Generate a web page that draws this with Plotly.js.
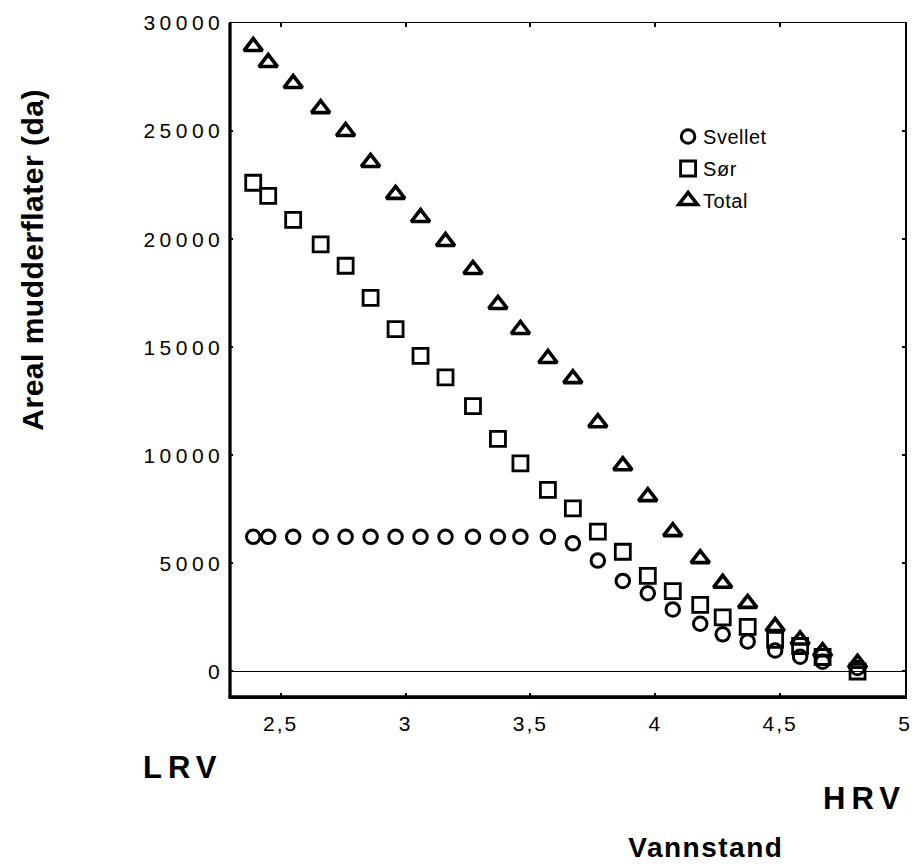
<!DOCTYPE html>
<html><head><meta charset="utf-8">
<script src="https://cdn.plot.ly/plotly-3.0.1.min.js"></script>
<style>
html,body{margin:0;padding:0;background:#fff;}
#chart .xtick text { letter-spacing: 2px; }
#chart .ytick text { letter-spacing: 4.5px; }
#chart text.legendtext { letter-spacing: 0.5px; transform: translateX(-5px); }
#chart .annotation-text { letter-spacing: 1.5px; }
#chart .ytitle-ann .annotation-text { letter-spacing: 0.5px; }
#chart .lrv .annotation-text { letter-spacing: 6px; }
</style>
</head><body><div id="chart" style="width:917px;height:864px;"></div>
<script>
// Vannstand (x)
const vannstand = [2.39, 2.45, 2.55, 2.66, 2.76, 2.86, 2.96, 3.06, 3.16, 3.27, 3.37, 3.46, 3.57, 3.67, 3.77, 3.87, 3.97, 4.07, 4.18, 4.27, 4.37, 4.48, 4.58, 4.67, 4.81];
// Areal mudderflater (da)
const svellet = [6230, 6230, 6230, 6230, 6230, 6230, 6230, 6230, 6230, 6230, 6230, 6230, 6230, 5930, 5130, 4190, 3620, 2870, 2210, 1720, 1390, 970, 680, 450, 160];
const sor = [22610, 22000, 20890, 19760, 18770, 17280, 15840, 14600, 13610, 12280, 10760, 9630, 8400, 7550, 6470, 5540, 4420, 3720, 3080, 2500, 2060, 1460, 1180, 670, 0];
const total = [28910, 28170, 27200, 26040, 24980, 23550, 22070, 21000, 19890, 18600, 16980, 15820, 14480, 13550, 11510, 9520, 8090, 6470, 5220, 4080, 3150, 2080, 1460, 920, 380];

const seriesNames = ['Svellet', 'Sør', 'Total'];
const xTickVals = [2.5, 3, 3.5, 4, 4.5, 5];
const xTickText = ['2,5', '3', '3,5', '4', '4,5', '5'];
const yTickVals = [0, 5000, 10000, 15000, 20000, 25000, 30000];
const yTickText = ['0', '5000', '10000', '15000', '20000', '25000', '30000'];

const FONT = 'Liberation Sans, Arial, Helvetica, sans-serif';

const traces = [
  {x: vannstand, y: svellet, name: seriesNames[0], legendgroup: 'a', type: 'scatter', mode: 'markers',
   marker: {symbol: 'circle-open', size: 13.5, color: '#000', line: {width: 3}}},
  {x: vannstand, y: sor, name: seriesNames[1], legendgroup: 'b', type: 'scatter', mode: 'markers',
   marker: {symbol: 'square-open', size: 15, color: '#000', line: {width: 2.8}}},
  {x: vannstand, y: total, name: seriesNames[2], legendgroup: 'c', type: 'scatter', mode: 'markers',
   marker: {symbol: 'triangle-up-open', size: 16, color: '#000', line: {width: 3.6}}}
];

const layout = {
  width: 917, height: 864,
  margin: {l: 230, r: 12, t: 23, b: 167},
  paper_bgcolor: '#fff', plot_bgcolor: '#fff',
  font: {family: FONT, color: '#000'},
  showlegend: true,
  legend: {x: 0.649, y: 0.8605, xanchor: 'left', yanchor: 'top',
           font: {family: FONT, size: 20, color: '#000'},
           bgcolor: 'rgba(0,0,0,0)', borderwidth: 0,
           traceorder: 'grouped', tracegroupgap: 3},
  xaxis: {range: [2.297, 5.0], tickmode: 'array', tickvals: xTickVals, ticktext: xTickText,
          showgrid: false, zeroline: false, showline: true, linecolor: '#000', linewidth: 1.5,
          mirror: 'ticks', ticks: 'inside', ticklen: 4, tickwidth: 2, tickcolor: '#000',
          tickfont: {family: FONT, size: 21, color: '#000'}, ticklabelstandoff: 7},
  yaxis: {range: [-1180, 30000], tickmode: 'array', tickvals: yTickVals, ticktext: yTickText,
          showgrid: false, zeroline: true, zerolinecolor: '#000', zerolinewidth: 1.5,
          showline: true, linecolor: '#000', linewidth: 1.5,
          mirror: 'ticks', ticks: 'inside', ticklen: 3, tickwidth: 2, tickcolor: '#000',
          tickfont: {family: FONT, size: 21, color: '#000'}, ticklabelstandoff: 0},
  shapes: [
    {type: 'line', xref: 'paper', yref: 'paper', x0: 0, x1: 0, y0: -0.002, y1: 1, line: {color: '#000', width: 3.3}},
    {type: 'line', xref: 'paper', yref: 'paper', x0: -0.002, x1: 1, y0: 0, y1: 0, line: {color: '#000', width: 3.3}}
  ],
  annotations: [
    {text: '<b>Areal mudderflater (da)</b>', xref: 'paper', yref: 'paper', x: -0.2919, y: 0.6484,
     xanchor: 'center', yanchor: 'middle', textangle: -90, showarrow: false,
     font: {family: FONT, size: 30, color: '#000'}},
    {text: '<b>Vannstand</b>', xref: 'paper', yref: 'paper', x: 0.7052, y: -0.2226,
     xanchor: 'center', yanchor: 'middle', showarrow: false,
     font: {family: FONT, size: 28, color: '#000'}},
    {text: '<b>LRV</b>', xref: 'paper', yref: 'paper', x: -0.0696, y: -0.1053,
     xanchor: 'center', yanchor: 'middle', showarrow: false,
     font: {family: FONT, size: 31, color: '#000'}},
    {text: '<b>HRV</b>', xref: 'paper', yref: 'paper', x: 0.9393, y: -0.1499,
     xanchor: 'center', yanchor: 'middle', showarrow: false,
     font: {family: FONT, size: 31, color: '#000'}}
  ]
};

Plotly.newPlot('chart', traces, layout, {displayModeBar: false, staticPlot: true}).then(function(gd){
  const anns = document.querySelectorAll('#chart .annotation');
  anns.forEach(function(a, i){
    if (i === 0) a.classList.add('ytitle-ann');
    if (i >= 2) a.classList.add('lrv');
  });
});
</script>
</body></html>
